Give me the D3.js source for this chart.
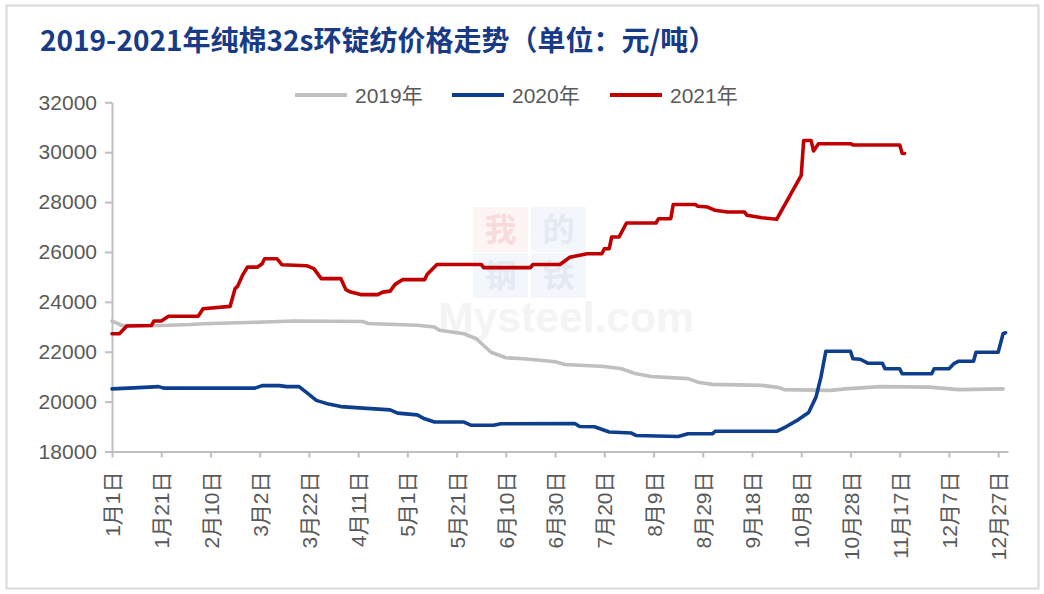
<!DOCTYPE html>
<html>
<head>
<meta charset="utf-8">
<script src="https://cdn.jsdelivr.net/npm/d3@7"></script>
<style>
  body { margin: 0; background: #fff; }
  svg text { font-family: "Liberation Sans", "Noto Sans CJK SC", sans-serif; }
</style>
</head>
<body>
<svg id="chart"></svg>
<script>
// day-of-year ticks (every 20 days)
var tickDays = [0, 20, 40, 60, 80, 100, 120, 140, 160, 180, 200, 220, 240, 260, 280, 300, 320, 340, 360];
var tickLabels = ["1月1日", "1月21日", "2月10日", "3月2日", "3月22日", "4月11日", "5月1日", "5月21日",
  "6月10日", "6月30日", "7月20日", "8月9日", "8月29日", "9月18日", "10月8日", "10月28日",
  "11月17日", "12月7日", "12月27日"];
var yTicks = [18000, 20000, 22000, 24000, 26000, 28000, 30000, 32000];

// [day of year, price]
var price2019 = [[0,23230],[2,23150],[4,23050],[20,23050],[32,23090],[37,23120],[62,23190],[74,23230],
  [102,23210],[104,23130],[124,23060],[131,22990],[133,22860],[143,22720],[148,22520],[151,22250],
  [154,21980],[160,21760],[167,21720],[175,21650],[180,21600],[184,21490],[200,21410],[207,21320],
  [212,21140],[219,21010],[234,20920],[238,20780],[244,20690],[264,20650],[271,20560],[273,20480],
  [292,20450],[298,20510],[312,20600],[332,20580],[344,20480],[362,20510]];

var price2020 = [[0,20510],[11,20560],[19,20600],[21,20540],[58,20540],[61,20640],[68,20640],[71,20600],
  [76,20600],[80,20290],[83,20050],[88,19900],[93,19800],[102,19740],[113,19670],[116,19540],
  [124,19470],[127,19310],[131,19180],[143,19180],[146,19050],[155,19050],[158,19110],[188,19120],
  [190,19000],[196,18990],[202,18780],[211,18740],[213,18640],[230,18600],[234,18710],[244,18710],
  [245,18810],[270,18810],[274,19000],[279,19290],[283,19560],[286,20180],[288,20980],[290,22020],
  [300,22020],[301,21720],[304,21700],[307,21540],[313,21540],[314,21320],[320,21320],[321,21120],
  [333,21120],[334,21320],[340,21320],[342,21520],[344,21620],[350,21620],[351,21980],[360,21980],
  [362,22720],[363,22760]];

var price2021 = [[0,22720],[3,22720],[6,23030],[16,23050],[17,23230],[20,23230],[23,23420],[35,23420],
  [37,23720],[48,23820],[50,24530],[51,24620],[53,25060],[55,25390],[59,25390],[61,25530],[62,25730],
  [67,25730],[69,25490],[79,25450],[82,25330],[85,24930],[93,24930],[95,24490],[97,24390],[101,24290],
  [108,24290],[110,24390],[113,24430],[115,24700],[118,24890],[127,24890],[128,25100],[132,25500],
  [150,25500],[151,25370],[170,25370],[171,25500],[182,25500],[186,25790],[193,25930],[199,25930],
  [200,26130],[202,26130],[203,26600],[206,26600],[209,27160],[221,27160],[222,27330],[227,27330],
  [228,27900],[237,27900],[238,27830],[242,27800],[245,27670],[250,27600],[257,27600],[258,27470],
  [264,27370],[270,27310],[280,29070],[281,30470],[284,30470],[285,30050],[287,30340],[300,30340],
  [301,30290],[320,30290],[321,29960],[322,29950]];

var seriesNames = ["2019年", "2020年", "2021年"];
var seriesColors = ["#bfbfbf", "#0e3e8e", "#c00000"];
var seriesData = [price2019, price2020, price2021];

var W = 1044, H = 594;
var svg = d3.select("#chart").attr("width", W).attr("height", H);

svg.append("rect")
  .attr("x", 6.5).attr("y", 5.5).attr("width", 1032).attr("height", 583)
  .attr("fill", "#fff").attr("stroke", "#d9d9d9").attr("stroke-width", 2);

// title
svg.append("text")
  .attr("x", 40).attr("y", 51)
  .style("font-family", "'Noto Sans CJK SC', sans-serif")
  .style("font-weight", "bold")
  .style("font-size", "28px")
  .attr("fill", "#173b86")
  .text("2019-2021年纯棉32s环锭纺价格走势（单位：元/吨）");

var x = d3.scaleLinear().domain([0, 364]).range([112, 1008]);
var y = d3.scaleLinear().domain([18000, 32000]).range([451.5, 102.3]);

// watermark (very faint)
var wm = svg.append("g");
var wmChars = [["我", 473, 207, "#fdf4f4", "#f8dcdc"], ["的", 531, 207, "#f3f6fa", "#e4eaf3"],
  ["钢", 473, 253, "#f3f6fa", "#e4eaf3"], ["铁", 531, 253, "#f3f6fa", "#e4eaf3"]];
wmChars.forEach(function (c) {
  wm.append("rect").attr("x", c[1]).attr("y", c[2]).attr("width", 55).attr("height", 45).attr("fill", c[3]);
  wm.append("text").attr("x", c[1] + 27.5).attr("y", c[2] + 34)
    .attr("text-anchor", "middle")
    .style("font-family", "'Noto Sans CJK SC', sans-serif")
    .style("font-size", "32px").style("font-weight", "bold")
    .attr("fill", c[4]).text(c[0]);
});
wm.append("text").attr("x", 438).attr("y", 332)
  .attr("textLength", 256).attr("lengthAdjust", "spacingAndGlyphs")
  .style("font-size", "42px").style("font-weight", "bold")
  .attr("fill", "#f4f4f4").text("Mysteel.com");

// axes
var yAxis = svg.append("g")
  .attr("transform", "translate(" + x(0) + ",0)")
  .call(d3.axisLeft(y).tickValues(yTicks).tickSize(7).tickSizeOuter(0).tickPadding(8).tickFormat(d3.format("d")));

var xAxis = svg.append("g")
  .attr("transform", "translate(0," + y(18000) + ")")
  .call(d3.axisBottom(x).tickValues(tickDays).tickSize(6).tickSizeOuter(0).tickFormat(function (d, i) { return tickLabels[i]; }));

[yAxis, xAxis].forEach(function (a) {
  a.select(".domain").attr("stroke", "#bfbfbf").attr("stroke-width", 2);
  a.selectAll(".tick line").attr("stroke", "#bfbfbf").attr("stroke-width", 2);
  a.selectAll(".tick text").attr("fill", "#595959")
    .style("font-family", "'Liberation Sans', 'Noto Sans CJK SC', sans-serif")
    .style("font-size", "21px");
});

xAxis.selectAll(".tick text")
  .attr("text-anchor", "end")
  .attr("transform", "rotate(-90)")
  .attr("x", -20).attr("y", 0).attr("dy", "0.36em");

// lines
var line = d3.line()
  .x(function (d) { return x(d[0]); })
  .y(function (d) { return y(d[1]); });

seriesData.forEach(function (s, i) {
  svg.append("path")
    .datum(s)
    .attr("fill", "none")
    .attr("stroke", seriesColors[i])
    .attr("stroke-width", 3.6)
    .attr("stroke-linejoin", "round")
    .attr("stroke-linecap", "round")
    .attr("d", line);
});

// legend
var legendX = [295, 452, 610];
var lg = svg.append("g");
seriesNames.forEach(function (n, i) {
  lg.append("line")
    .attr("x1", legendX[i]).attr("x2", legendX[i] + 52)
    .attr("y1", 95).attr("y2", 95)
    .attr("stroke", seriesColors[i]).attr("stroke-width", 4);
  lg.append("text")
    .attr("x", legendX[i] + 60).attr("y", 103)
    .attr("fill", "#595959")
    .style("font-size", "21px")
    .text(n);
});
</script>
</body>
</html>
